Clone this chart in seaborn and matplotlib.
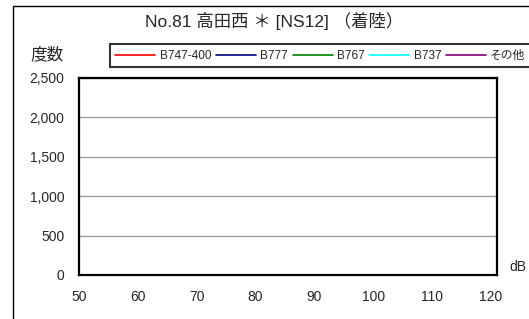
import pandas as pd
import matplotlib
matplotlib.use("Agg")
import matplotlib.pyplot as plt
import matplotlib.patches as patches
from matplotlib.ticker import FuncFormatter
import seaborn as sns

# chart data (no landings recorded -> all series empty)
series_names = ['B747-400', 'B777', 'B767', 'B737', 'その他']
series_colors = ['#ff0000', '#000080', '#008000', '#00ffff', '#800080']
db_values = []      # dB levels
counts = {name: [] for name in series_names}
x_ticks = [50, 60, 70, 80, 90, 100, 110, 120]
y_ticks = [0, 500, 1000, 1500, 2000, 2500]

sns.set_style('white')
plt.rcParams['font.family'] = ['Liberation Sans', 'Noto Sans CJK JP', 'DejaVu Sans']

fig = plt.figure(figsize=(5.29, 3.19), dpi=100)
ax = fig.add_axes([79 / 529, 1 - 275 / 319, (497 - 79) / 529, (275 - 78) / 319])

for name, color in zip(series_names, series_colors):
    ax.plot(db_values, counts[name], color=color, lw=1.2, label=name)

ax.set_xlim(50, 121)
ax.set_ylim(0, 2500)
ax.set_xticks(x_ticks)
ax.set_yticks(y_ticks)
ax.yaxis.set_major_formatter(FuncFormatter(lambda v, p: f'{int(v):,}'))
ax.grid(axis='y', color='#a0a0a0', lw=1)
ax.set_axisbelow(True)
for s in ax.spines.values():
    s.set_color('black')
    s.set_linewidth(1.6)
ax.tick_params(axis='y', direction='out', length=4.5, width=1, labelsize=10, pad=6)
ax.tick_params(axis='x', direction='inout', length=6, width=1, labelsize=10, pad=8)

fig.text(274 / 529, 1 - 21 / 319, 'No.81 高田西 ＊ [NS12] （着陸）', ha='center', va='center',
         fontsize=12.5, family=['Liberation Sans', 'Noto Sans CJK JP'])
fig.text(47 / 529, 1 - 55 / 319, '度数', ha='center', va='center', fontsize=12,
         family=['Noto Sans CJK JP'])
fig.text(518 / 529, 1 - 267 / 319, 'dB', ha='center', va='center', fontsize=10)

leg = fig.legend(loc='lower left', bbox_to_anchor=(110 / 529, 1 - 67 / 319), ncol=5,
                 fontsize=8.5, handlelength=3.4, handletextpad=0.35, columnspacing=0.4,
                 frameon=True, fancybox=False, borderpad=0.45, borderaxespad=0)
leg.get_frame().set_edgecolor('black')
leg.get_frame().set_linewidth(1.5)

# outer chart border (runs off the right and bottom edge)
fig.patches.append(patches.Rectangle((13 / 529, -0.1), 1.1, 1.1 - 6 / 319, fill=False,
                                     edgecolor='black', lw=1, transform=fig.transFigure))

plt.savefig('out.png', dpi=100)
plt.close()
